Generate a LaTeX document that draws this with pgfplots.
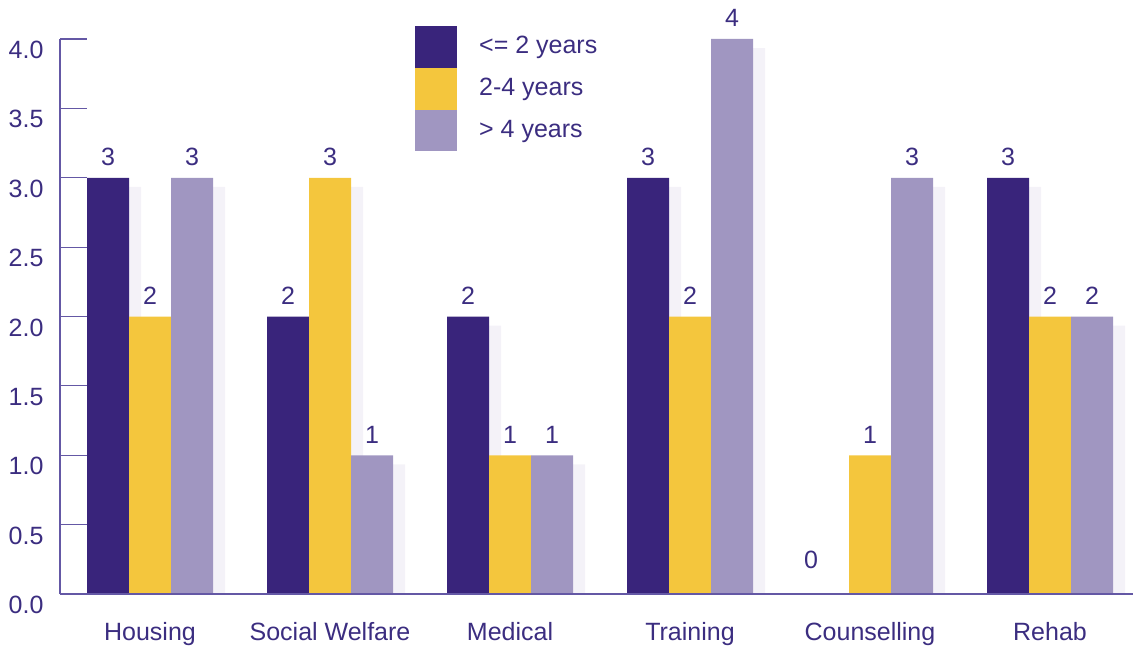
\documentclass[border=0pt]{standalone}
\usepackage{pgfplots}
\pgfplotsset{compat=1.18}
\usepackage{fontspec}
\setmainfont{Liberation Sans}
\definecolor{darkp}{RGB}{57,36,123}
\definecolor{yellowc}{RGB}{244,198,61}
\definecolor{lavc}{RGB}{160,150,193}
\definecolor{shadowc}{RGB}{244,242,248}
\definecolor{textc}{RGB}{59,45,128}
\definecolor{axisc}{RGB}{100,88,165}
\pgfplotsset{
  mybar/.style={ybar, bar width=0.23333, bar shift=0pt, draw=none,
    legend image code/.code={\fill[##1] (0pt,-20.85pt) rectangle (42pt,20.85pt);}},
  shiftx/.style={x filter/.code={\pgfmathparse{\pgfmathresult+#1}}},
}
\begin{document}
\fontsize{25}{30}\selectfont
\begin{tikzpicture}
\begin{axis}[
  scale only axis, width=1073pt, height=555pt,
  xmin=-0.5, xmax=5.4611, ymin=0, ymax=4,
  axis x line=bottom, axis y line=left,
  axis line style={-, line width=1.2pt, color=axisc},
  xtick={0,1,2,3,4,5},
  xticklabels={Housing, Social Welfare, Medical, Training, Counselling, Rehab},
  x tick style={draw=none},
  ytick={0,0.5,1,1.5,2,2.5,3,3.5,4},
  yticklabels={0.0,0.5,1.0,1.5,2.0,2.5,3.0,3.5,4.0},
  y tick style={line width=1.2pt, color=axisc},
  tick align=inside, major tick length=27pt,
  /pgf/number format/assume math mode=true,
  ticklabel style={text=textc},
  yticklabel style={xshift=-8pt, yshift=-11pt},
  xticklabel style={yshift=-20pt},
  clip=false, axis on top,
  legend style={at={(0.3308,1.0234)}, anchor=north west, draw=none, fill=none,
    inner sep=0pt, row sep=0pt, column sep=20pt, text=textc},
  legend cell align=left,
  nodes near coords style={text=textc, anchor=south, inner sep=0pt, yshift=12pt},
]
% series 1: <= 2 years
\addplot[mybar, shiftx=-0.16667, fill=shadowc, forget plot]
  coordinates {(0,2.935) (1,1.935) (2,1.935) (3,2.935) (5,2.935)};
\addplot[mybar, shiftx=-0.23333, fill=darkp, nodes near coords]
  coordinates {(0,3) (1,2) (2,2) (3,3) (5,3)};
\addlegendentry{<= 2 years}
\addplot[mybar, shiftx=-0.23333, fill=none, forget plot, nodes near coords,
  nodes near coords style={yshift=13pt, xshift=-17pt}]
  coordinates {(4,0)};
% series 2: 2-4 years
\addplot[mybar, shiftx=0.06667, fill=shadowc, forget plot]
  coordinates {(0,1.935) (1,2.935) (2,0.935) (3,1.935) (4,0.935) (5,1.935)};
\addplot[mybar, shiftx=0, fill=yellowc, nodes near coords]
  coordinates {(0,2) (1,3) (2,1) (3,2) (4,1) (5,2)};
\addlegendentry{2-4 years}
% series 3: > 4 years
\addplot[mybar, shiftx=0.3, fill=shadowc, forget plot]
  coordinates {(0,2.935) (1,0.935) (2,0.935) (3,3.935) (4,2.935) (5,1.935)};
\addplot[mybar, shiftx=0.23333, fill=lavc, nodes near coords]
  coordinates {(0,3) (1,1) (2,1) (3,4) (4,3) (5,2)};
\addlegendentry{> 4 years}
\end{axis}
\pgfresetboundingbox
\path ([shift={(-60pt,-54pt)}]current axis.south west) rectangle ([shift={(0pt,39pt)}]current axis.north east);
\end{tikzpicture}
\end{document}
